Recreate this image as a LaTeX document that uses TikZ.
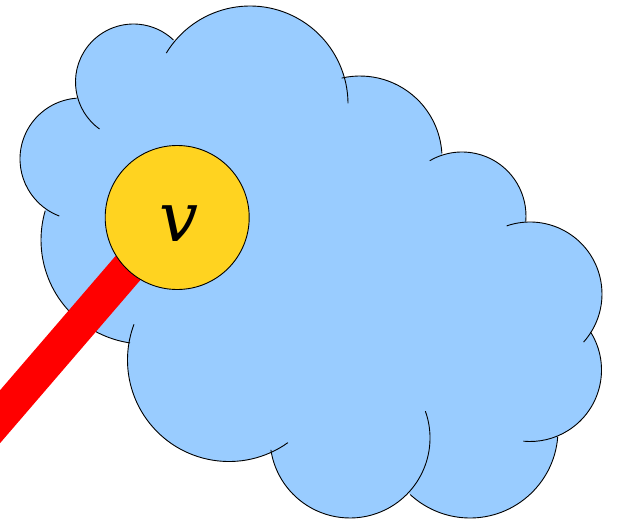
\documentclass[tikz,border=0pt]{standalone}
\usepackage{fontspec}
\newfontfamily\vfont{DejaVu Serif}
\definecolor{cloudblue}{RGB}{153,204,255}
\definecolor{nodeyellow}{RGB}{255,211,32}
\definecolor{edgered}{RGB}{255,0,0}
\begin{document}
\begin{tikzpicture}[x=1pt,y=1pt,
  cloudline/.style={draw=black,line width=0.9pt},
  vertexnode/.style={circle,draw=black,line width=0.9pt,fill=nodeyellow,minimum size=144pt,inner sep=0pt},
  vlabel/.style={inner sep=0pt,font=\vfont\itshape\fontsize{69}{69}\selectfont},
  rededge/.style={draw=edgered,line width=34.5pt,line cap=butt}]
\useasboundingbox (0,-522) rectangle (621,0);
\clip (0,-522) rectangle (621,0);
% cloud fill
\foreach \cx/\cy/\r/\s/\e in {133.5/82/58/234.1/46.5, 250/104/98/148.7/0.4, 360/158/82/102.9/3.3, 462/216/64/120.3/-5.1, 530/294/72/108.9/-41.9, 530/370/71.5/32.1/-95.4, 470/430/88/-4.4/-132.8, 350/438/80/19.6/-171.5, 229/360/101.5/-54.5/-200.6, 145/240/104/-98.3/-196.3, 81/159/61/-110.8/-265.9}{
  \fill[cloudblue] (\cx,-\cy) circle[radius=\r];
}
\fill[cloudblue] (133.5,-82) -- (250,-104) -- (360,-158) -- (462,-216) -- (530,-294) -- (530,-370) -- (470,-430) -- (350,-438) -- (229,-360) -- (145,-240) -- (81,-159) -- cycle;
% cloud outline arcs
\foreach \cx/\cy/\r/\s/\e in {133.5/82/58/234.1/46.5, 250/104/98/148.7/0.4, 360/158/82/102.9/3.3, 462/216/64/120.3/-5.1, 530/294/72/108.9/-41.9, 530/370/71.5/32.1/-95.4, 470/430/88/-4.4/-132.8, 350/438/80/19.6/-171.5, 229/360/101.5/-54.5/-200.6, 145/240/104/-98.3/-196.3, 81/159/61/-110.8/-265.9}{
  \draw[cloudline] (\cx,-\cy) ++(\s:\r) arc[start angle=\s,end angle=\e,radius=\r];
}
% edge and vertex
\coordinate (vjoint) at (177,-211);
\coordinate (tail) at (-100,-533);
\draw[rededge] (vjoint) -- (tail);
\node[vertexnode] (v) at (177.2,-217.5) {};
\node[vlabel] (vtext) at (178.5,-224) {v};
\end{tikzpicture}
\end{document}
